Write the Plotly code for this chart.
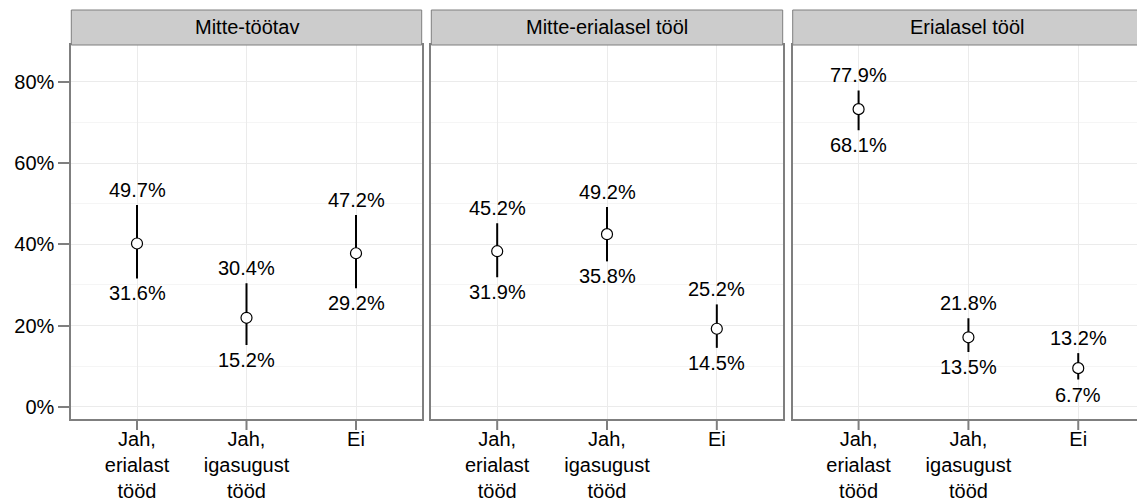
import plotly.graph_objects as go

# ---- data ----
panels = ["Mitte-töötav", "Mitte-erialasel tööl", "Erialasel tööl"]
categories = ["Jah,<br>erialast<br>tööd", "Jah,<br>igasugust<br>tööd", "Ei"]
estimate = {
    "Mitte-töötav": [40.2, 21.9, 37.8],
    "Mitte-erialasel tööl": [38.3, 42.5, 19.2],
    "Erialasel tööl": [73.3, 17.1, 9.5],
}
lower = {
    "Mitte-töötav": [31.6, 15.2, 29.2],
    "Mitte-erialasel tööl": [31.9, 35.8, 14.5],
    "Erialasel tööl": [68.1, 13.5, 6.7],
}
upper = {
    "Mitte-töötav": [49.7, 30.4, 47.2],
    "Mitte-erialasel tööl": [45.2, 49.2, 25.2],
    "Erialasel tööl": [77.9, 21.8, 13.2],
}
y_ticks = [0, 20, 40, 60, 80]
y_tick_labels = ["0%", "20%", "40%", "60%", "80%"]
y_minor = [10, 30, 50, 70]

# ---- layout geometry (pixels) ----
W, H = 1137, 503
panel_px = [(71.3, 421.7), (431.3, 782.7), (792.7, 1137.0)]
x_ranges = [[-0.6, 2.6], [-0.6, 2.6], [-0.6, 2.535]]
top_px, bot_px = 45, 419
strip_top_px = 10
FONT = "Liberation Sans, Arial, sans-serif"
FS = 20
BORDER = "#7f7f7f"

fig = go.Figure()
ydom = [(H - bot_px) / H, (H - top_px) / H]

for i, p in enumerate(panels):
    n = "" if i == 0 else str(i + 1)
    xa, ya = "x" + n, "y" + n
    est, lo, up = estimate[p], lower[p], upper[p]
    fig.add_trace(go.Scatter(
        x=categories, y=est, xaxis=xa, yaxis=ya, mode="markers",
        marker=dict(symbol="circle", size=11, color="white",
                    line=dict(color="black", width=1.2)),
        error_y=dict(type="data", symmetric=False,
                     array=[u - e for u, e in zip(up, est)],
                     arrayminus=[e - l for e, l in zip(est, lo)],
                     thickness=2, width=0, color="black"),
        showlegend=False, hoverinfo="skip"))
    for c, u, l in zip(categories, up, lo):
        fig.add_annotation(x=c, y=u, xref=xa, yref=ya, text=f"{u:.1f}%",
                           showarrow=False, yshift=15,
                           font=dict(family=FONT, size=FS, color="black"))
        fig.add_annotation(x=c, y=l, xref=xa, yref=ya, text=f"{l:.1f}%",
                           showarrow=False, yshift=-15,
                           font=dict(family=FONT, size=FS, color="black"))
        # x tick mark (drawn as a short pixel-sized line below the panel)
        fig.add_shape(type="line", xref=xa, yref=ya + " domain",
                      x0=c, x1=c, ysizemode="pixel", yanchor=0, y0=0, y1=-11,
                      line=dict(color=BORDER, width=2))

    x0, x1 = panel_px[i]
    xdom = [x0 / W, min(x1 / W, 1.0)]
    last = i == len(panels) - 1
    fig.layout["xaxis" + n] = dict(
        domain=xdom, anchor=ya, type="category", range=x_ranges[i],
        categoryorder="array", categoryarray=categories,
        tickmode="array", tickvals=categories, ticktext=categories,
        showgrid=True, gridcolor="#ebebeb", gridwidth=1,
        ticks="", ticklabelstandoff=1, automargin=False,
        showline=True, linecolor=BORDER, linewidth=2, mirror=True,
        tickfont=dict(family=FONT, size=FS, color="black"),
        zeroline=False, fixedrange=True)
    fig.layout["yaxis" + n] = dict(
        domain=ydom, anchor=xa, range=[-3.03, 89.1],
        tickmode="array", tickvals=y_ticks, ticktext=y_tick_labels,
        showticklabels=(i == 0), ticks="outside" if i == 0 else "",
        ticklen=11, tickwidth=2, tickcolor=BORDER, automargin=False,
        showgrid=True, gridcolor="#ebebeb", gridwidth=1,
        minor=dict(tickvals=y_minor, showgrid=True,
                   gridcolor="#f5f5f5", gridwidth=1, ticks=""),
        showline=True, linecolor=BORDER, linewidth=2,
        mirror=(not last), zeroline=False,
        tickfont=dict(family=FONT, size=FS, color="black"),
        fixedrange=True)

    # strip
    fig.add_shape(type="rect", xref="paper", yref="paper",
                  x0=x0 / W, x1=(x1 + (10 if last else 0)) / W,
                  y0=(H - top_px) / H, y1=(H - strip_top_px) / H,
                  fillcolor="#cccccc", line=dict(color=BORDER, width=1),
                  layer="above")
    fig.add_annotation(xref="paper", yref="paper",
                       x=((x0 + (421.7 - 71.3) / 2) if last else (x0 + x1) / 2) / W,
                       y=(H - (top_px + strip_top_px) / 2) / H,
                       text=p, showarrow=False, xanchor="center", yanchor="middle",
                       font=dict(family=FONT, size=FS, color="black"))

fig.update_layout(
    width=W, height=H,
    margin=dict(l=0, r=0, t=0, b=0, autoexpand=False),
    paper_bgcolor="white", plot_bgcolor="white",
    font=dict(family=FONT, size=FS, color="black"),
)

css_fix = (
    "var s=document.createElement('style');"
    "s.innerHTML='html,body{margin:0;padding:0;overflow:hidden;"
    "width:1137px;height:503px;}';"
    "document.head.appendChild(s);"
)
fig.write_html("out.html", config={"displayModeBar": False},
               post_script=css_fix)
